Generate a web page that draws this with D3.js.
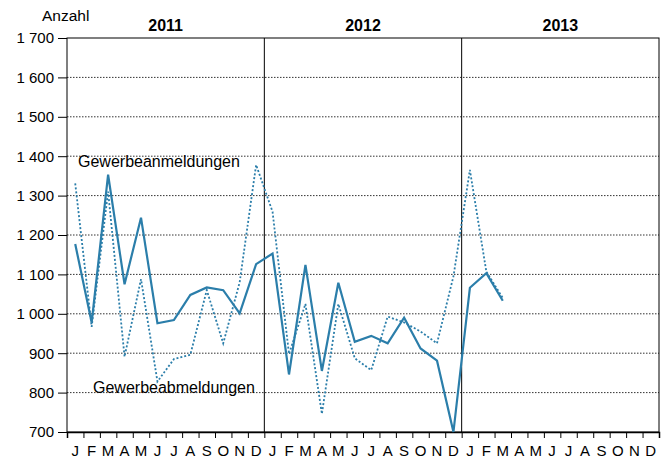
<!DOCTYPE html>
<html lang="de">
<head>
<meta charset="utf-8">
<title>Gewerbean- und -abmeldungen</title>
<script src="https://d3js.org/d3.v7.min.js"></script>
<style>
  body { margin: 0; background: #fff; }
  svg text { font-family: "Liberation Sans", Arial, sans-serif; fill: #000; }
</style>
</head>
<body>
<chart></chart>
<script>
// Monatswerte Jan 2011 - Mär 2013
const years = ["2011", "2012", "2013"];
const monthLetters = ["J", "F", "M", "A", "M", "J", "J", "A", "S", "O", "N", "D"];
const anmeldungen = [1177, 978, 1353, 1075, 1244, 976, 984, 1048, 1067, 1060, 1001, 1126,
                     1153, 846, 1124, 855, 1079, 929, 944, 925, 990, 912, 881, 700,
                     1066, 1103, 1033];
const abmeldungen = [1331, 967, 1310, 891, 1088, 828, 885, 896, 1060, 925, 1080, 1378,
                     1259, 898, 1025, 746, 1025, 887, 857, 993, 978, 955, 925, 1095,
                     1365, 1107, 1040];
const yTicks = [700, 800, 900, 1000, 1100, 1200, 1300, 1400, 1500, 1600, 1700];

const W = 669, H = 461;
const margin = { top: 38, right: 10, bottom: 29, left: 67 };
const width = W - margin.left - margin.right,
      height = H - margin.top - margin.bottom;

const svg = d3.select("chart").append("svg")
  .attr("width", W).attr("height", H);
const g = svg.append("g")
  .attr("transform", "translate(" + margin.left + "," + margin.top + ")");

const months = d3.range(36);
const x = d3.scaleBand().domain(months).range([0, width]);
const y = d3.scaleLinear().domain([700, 1700]).range([height, 0]);
const fmt = v => d3.format(",")(v).replace(",", " ");

// Gitterlinien
g.selectAll(".grid").data(yTicks.slice(1, -1)).enter().append("line")
  .attr("x1", 0).attr("x2", width)
  .attr("y1", d => y(d)).attr("y2", d => y(d))
  .attr("stroke", "#333").attr("stroke-width", 1)
  .attr("stroke-dasharray", "1.5,1.5");

// Rahmen und Jahrestrenner
g.append("rect").attr("width", width).attr("height", height)
  .attr("fill", "none").attr("stroke", "#000").attr("stroke-width", 1);
[12, 24].forEach(m => {
  g.append("line").attr("x1", x(m)).attr("x2", x(m))
    .attr("y1", 0).attr("y2", height).attr("stroke", "#000");
});

// y-Achse
const yAxis = d3.axisLeft(y).tickValues(yTicks).tickSize(9).tickPadding(4).tickFormat(fmt);
g.append("g").call(yAxis)
  .call(s => s.select(".domain").remove())
  .call(s => s.selectAll("text").style("font-size", "15px"));

// x-Achse: Striche an Monatsgrenzen
const xTickScale = d3.scaleLinear().domain([0, 36]).range([0, width]);
const xAxis = d3.axisBottom(xTickScale).tickValues(d3.range(37)).tickSize(6).tickFormat("");
g.append("g").attr("transform", "translate(0," + height + ")").call(xAxis)
  .call(s => s.select(".domain").attr("stroke-width", 1.5));

g.selectAll(".mlab").data(months).enter().append("text")
  .attr("x", d => x(d) + x.bandwidth() / 2)
  .attr("y", height + 24)
  .attr("text-anchor", "middle")
  .style("font-size", "15px")
  .text(d => monthLetters[d % 12]);

// Jahreszahlen
g.selectAll(".ylab").data(years).enter().append("text")
  .attr("x", (d, i) => xTickScale(i * 12 + 6))
  .attr("y", -7)
  .attr("text-anchor", "middle")
  .style("font-size", "16px").style("font-weight", "bold")
  .text(d => d);

svg.append("text").attr("x", 42).attr("y", 21)
  .style("font-size", "15.5px").text("Anzahl");

// Linien
const line = d3.line()
  .x((d, i) => x(i) + x.bandwidth() / 2)
  .y(d => y(d));

g.append("path").datum(abmeldungen)
  .attr("d", line).attr("fill", "none")
  .attr("stroke", "#2b7eaa").attr("stroke-width", 1.8)
  .attr("stroke-dasharray", "2,2");

g.append("path").datum(anmeldungen)
  .attr("d", line).attr("fill", "none")
  .attr("stroke", "#2b7eaa").attr("stroke-width", 2.2)
  .attr("stroke-linejoin", "miter");

// Beschriftungen
g.append("text").attr("x", 11).attr("y", y(1373))
  .style("font-size", "16px").text("Gewerbeanmeldungen");
g.append("text").attr("x", 26).attr("y", y(799))
  .style("font-size", "16px").text("Gewerbeabmeldungen");
</script>
</body>
</html>
